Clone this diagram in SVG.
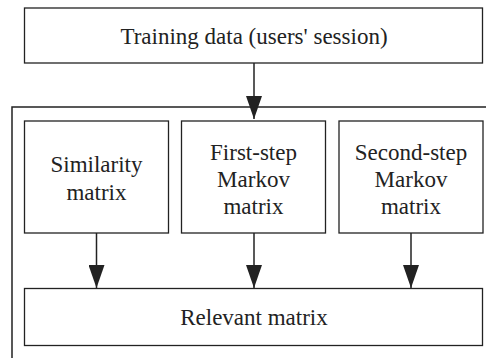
<svg xmlns="http://www.w3.org/2000/svg" width="486" height="358" viewBox="0 0 486 358">
<style>
.box{fill:#fff;stroke:#222;stroke-width:1.3}
.c{stroke:#222;stroke-width:1.5;fill:none}
text{font-family:"Liberation Serif","Times New Roman",serif;font-size:23px;fill:#222;text-anchor:middle}
</style>
<defs>
<marker id="ah" viewBox="0 0 23 16" refX="23" refY="8" markerWidth="23" markerHeight="16" markerUnits="userSpaceOnUse" orient="auto">
<path d="M0,0 L23,8 L0,16 Z" fill="#222"/>
</marker>
</defs>
<rect width="486" height="358" fill="#fff"/>
<g id="frame"><path class="c" d="M12,358 L12,107 L486,107" stroke-width="1.3"/></g>
<g id="training"><rect class="box" x="24.5" y="8" width="458" height="55"/><text x="254" y="44">Training data (users' session)</text></g>
<g id="similarity"><rect class="box" x="24.5" y="121" width="144" height="112"/><text x="96.5" y="172">Similarity</text><text x="96.5" y="200">matrix</text></g>
<g id="first"><rect class="box" x="181.5" y="121" width="144" height="112"/><text x="253.5" y="160">First-step</text><text x="253.5" y="187">Markov</text><text x="253.5" y="214">matrix</text></g>
<g id="second"><rect class="box" x="339" y="121" width="144" height="112"/><text x="411" y="160">Second-step</text><text x="411" y="187">Markov</text><text x="411" y="214">matrix</text></g>
<g id="relevant"><rect class="box" x="24.5" y="288.5" width="458" height="57"/><text x="254" y="325">Relevant matrix</text></g>
<g id="connectors">
<line class="c" x1="254" y1="63" x2="254" y2="119" marker-end="url(#ah)"/>
<line class="c" x1="96.5" y1="233" x2="96.5" y2="288" marker-end="url(#ah)"/>
<line class="c" x1="254" y1="233" x2="254" y2="288" marker-end="url(#ah)"/>
<line class="c" x1="411" y1="233" x2="411" y2="288" marker-end="url(#ah)"/>
</g>
</svg>
